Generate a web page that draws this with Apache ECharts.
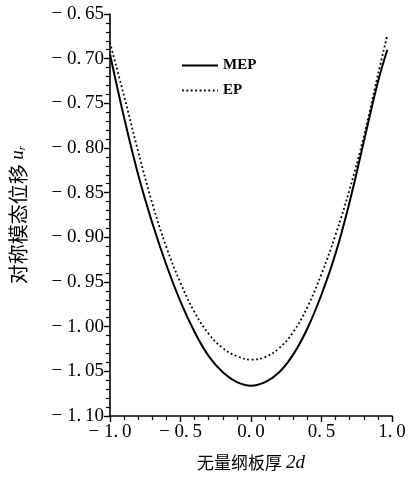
<!DOCTYPE html>
<html>
<head>
<meta charset="utf-8">
<script src="https://cdn.jsdelivr.net/npm/echarts@6/dist/echarts.min.js"></script>
<style>
  html, body { margin: 0; padding: 0; background: #fff; }
  #chart { width: 411px; height: 487px; }
</style>
</head>
<body>
<div id="chart"></div>
<script>
// valeurs
const xMEP = [-1.0, -0.9, -0.8, -0.7, -0.6, -0.5, -0.4, -0.3, -0.2, -0.1, 0.0,
              0.1, 0.2, 0.3, 0.4, 0.5, 0.6, 0.7, 0.8, 0.9, 0.967];
const yMEP = [-0.695, -0.766, -0.830, -0.884, -0.931, -0.972, -1.006, -1.033, -1.051, -1.062, -1.066,
              -1.062, -1.051, -1.031, -1.002, -0.964, -0.918, -0.860, -0.793, -0.726, -0.690];
const xEP = [-1.0, -0.9, -0.8, -0.7, -0.6, -0.5, -0.4, -0.3, -0.2, -0.1, 0.0,
             0.1, 0.2, 0.3, 0.4, 0.5, 0.6, 0.7, 0.8, 0.9, 0.967];
const yEP = [-0.682, -0.742, -0.804, -0.862, -0.911, -0.951, -0.984, -1.008, -1.024, -1.033, -1.037,
             -1.034, -1.024, -1.006, -0.978, -0.941, -0.897, -0.846, -0.787, -0.718, -0.6735];

const serif = 'Liberation Serif';
const cjk = 'Noto Sans CJK SC';

function pairs(xs, ys) {
    return xs.map((x, i) => [x, ys[i]]);
}

function fmt(v, d) {
    let s = Math.abs(v).toFixed(d).replace('.', '.\u2009');
    return v < -1e-9 ? '\u2212 ' + s : s;
}

let chart = echarts.init(document.getElementById('chart'));

let options = {
    animation: false,
    grid: { left: 110, right: 19, top: 14, bottom: 71 },
    legend: {
        orient: 'vertical',
        left: 176,
        top: 53,
        itemWidth: 36,
        itemHeight: 12,
        itemGap: 10,
        itemStyle: { opacity: 0 },
        textStyle: { fontFamily: serif, fontSize: 15, fontWeight: 'bold', color: '#000' },
        data: ['MEP', 'EP']
    },
    xAxis: {
        type: 'value',
        min: -1,
        max: 1,
        interval: 0.5,
        name: '{cn|无量纲板厚 }{it|2d}',
        nameLocation: 'middle',
        nameGap: 37,
        nameTextStyle: {
            rich: {
                cn: { fontFamily: cjk, fontSize: 17, color: '#000' },
                it: { fontFamily: serif, fontSize: 19, fontStyle: 'italic', color: '#000' }
            }
        },
        axisLine: { onZero: false, lineStyle: { color: '#000', width: 1.6 } },
        axisTick: { length: 6, lineStyle: { color: '#000', width: 1.4 } },
        minorTick: { show: true, splitNumber: 5, length: 4, lineStyle: { color: '#000', width: 1.2 } },
        splitLine: { show: false },
        axisLabel: {
            fontFamily: serif, fontSize: 19, color: '#000', margin: 7,
            formatter: v => fmt(v, 1)
        }
    },
    yAxis: {
        type: 'value',
        min: -1.10,
        max: -0.65,
        interval: 0.05,
        name: '{cn|对称模态位移 }{it|u}{sub|r}',
        nameLocation: 'middle',
        nameGap: 82,
        nameRotate: 90,
        nameTextStyle: {
            rich: {
                cn: { fontFamily: cjk, fontSize: 20, color: '#000' },
                it: { fontFamily: serif, fontSize: 19, fontStyle: 'italic', color: '#000' },
                sub: { fontFamily: serif, fontSize: 11, fontStyle: 'italic', color: '#000', verticalAlign: 'bottom', padding: [6, 0, 0, 0] }
            }
        },
        axisLine: { onZero: false, lineStyle: { color: '#000', width: 1.6 } },
        axisTick: { length: 6, lineStyle: { color: '#000', width: 1.4 } },
        minorTick: { show: true, splitNumber: 5, length: 4, lineStyle: { color: '#000', width: 1.2 } },
        splitLine: { show: false },
        axisLabel: {
            fontFamily: serif, fontSize: 19, color: '#000', margin: 6,
            formatter: v => fmt(v, 2)
        }
    },
    series: [
        {
            name: 'MEP',
            type: 'line',
            smooth: 0.4,
            symbol: 'none',
            data: pairs(xMEP, yMEP),
            lineStyle: { color: '#000', width: 2 },
            itemStyle: { color: '#000' }
        },
        {
            name: 'EP',
            type: 'line',
            smooth: 0.4,
            symbol: 'none',
            data: pairs(xEP, yEP),
            lineStyle: { color: '#000', width: 1.8, type: [1.8, 2.6] },
            itemStyle: { color: '#000' }
        }
    ]
};

chart.setOption(options);
</script>
</body>
</html>
